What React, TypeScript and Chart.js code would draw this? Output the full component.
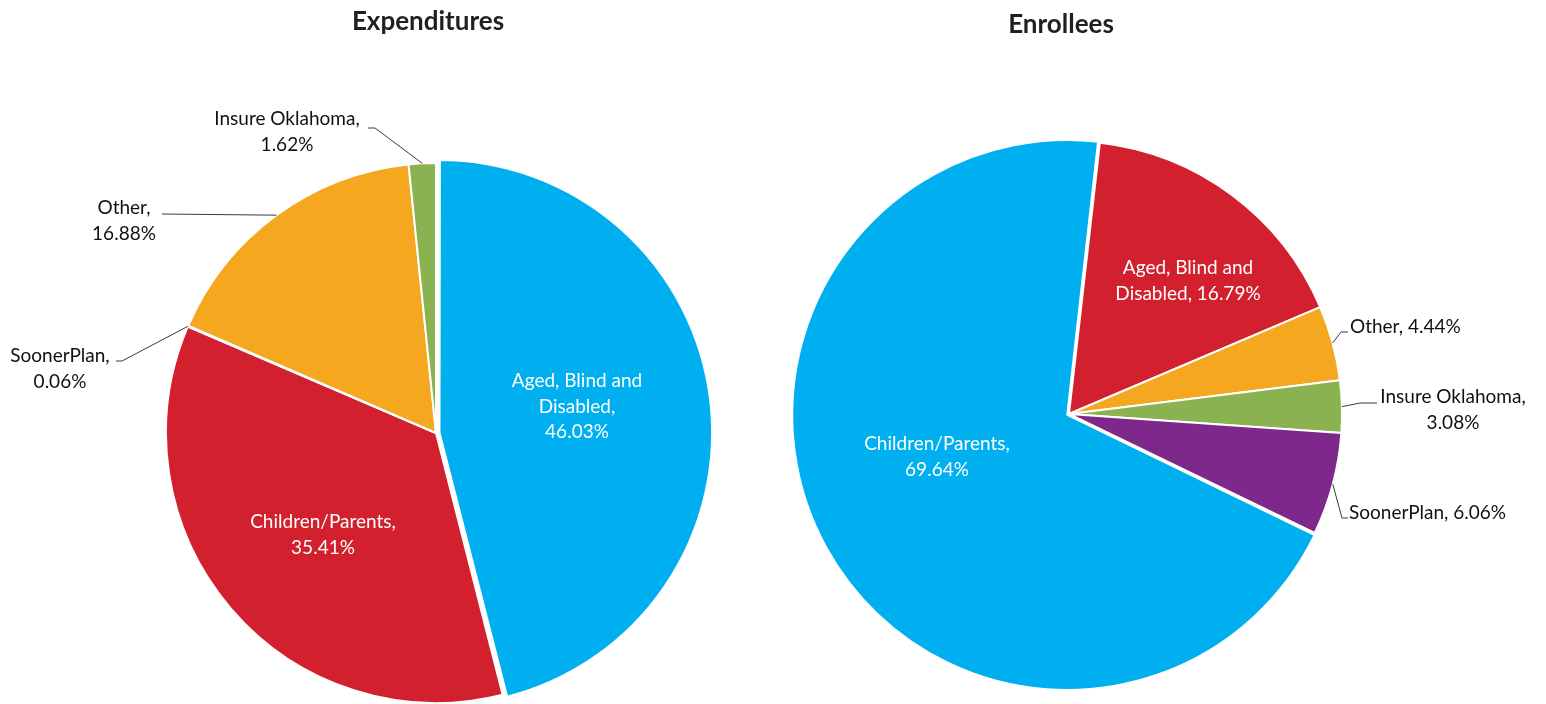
import React, { useEffect, useRef } from "react";
import { Chart, registerables } from "chart.js";

Chart.register(...registerables);

// ---- data ----
const expCategories = ["Aged, Blind and Disabled", "Children/Parents", "SoonerPlan", "Other", "Insure Oklahoma"];
const expValues = [46.03, 35.41, 0.06, 16.88, 1.62];
const enrCategories = ["Aged, Blind and Disabled", "Other", "Insure Oklahoma", "SoonerPlan", "Children/Parents"];
const enrValues = [16.79, 4.44, 3.08, 6.06, 69.64];
const chartTitles = ["Expenditures", "Enrollees"];

// ---- styles ----
const BLUE = "#00AFEF";
const RED = "#D3202E";
const PURPLE = "#7E288C";
const ORANGE = "#F5A71F";
const GREEN = "#8BB250";
const expColors = [BLUE, RED, PURPLE, ORANGE, GREEN];
const enrColors = [RED, ORANGE, GREEN, PURPLE, BLUE];
const FONT = "Lato, 'Open Sans', sans-serif";

type LabelLayout = {
  x: number;
  y: number;
  align: CanvasTextAlign;
  color: string;
  words: number[]; // words per line
  leader?: number[][]; // points after the arc anchor
};

// page-coordinate layouts
const expLayout: Record<string, LabelLayout> = {
  "Aged, Blind and Disabled": { x: 577, y: 381, align: "center", color: "#fff", words: [3, 1, 1] },
  "Children/Parents": { x: 323, y: 522, align: "center", color: "#fff", words: [1, 1] },
  SoonerPlan: { x: 60, y: 356, align: "center", color: "#111", words: [1, 1], leader: [[122, 361], [116, 361]] },
  Other: { x: 124, y: 208, align: "center", color: "#111", words: [1, 1], leader: [[162, 214]] },
  "Insure Oklahoma": { x: 287, y: 119, align: "center", color: "#111", words: [2, 1], leader: [[375, 128], [368, 128]] },
};
const enrLayout: Record<string, LabelLayout> = {
  "Aged, Blind and Disabled": { x: 1188, y: 268, align: "center", color: "#fff", words: [3, 2] },
  "Children/Parents": { x: 937, y: 444, align: "center", color: "#fff", words: [1, 1] },
  Other: { x: 1350, y: 327, align: "left", color: "#111", words: [2], leader: [[1341, 332], [1348, 332]] },
  "Insure Oklahoma": { x: 1453, y: 397, align: "center", color: "#111", words: [2, 1], leader: [[1360, 403], [1377, 403]] },
  SoonerPlan: { x: 1349, y: 513, align: "left", color: "#111", words: [2], leader: [[1342, 518], [1348, 518]] },
};

const sliceLabelPlugin = {
  id: "sliceLabels",
  afterDraw(chart: any, _args: any, opts: any) {
    const ctx: CanvasRenderingContext2D = chart.ctx;
    const ox: number = opts.originX;
    const layout: Record<string, LabelLayout> = opts.layout;
    const labels: string[] = chart.data.labels;
    const values: number[] = chart.data.datasets[0].data;
    const meta = chart.getDatasetMeta(0);
    ctx.save();
    // title
    ctx.fillStyle = "#231F20";
    ctx.font = `bold 26px ${FONT}`;
    ctx.textAlign = "center";
    ctx.textBaseline = "middle";
    ctx.fillText(opts.title, opts.titleX - ox, opts.titleY);

    labels.forEach((cat, i) => {
      const L = layout[cat];
      if (!L) return;
      const el = meta.data[i];
      const p = el.getProps(["x", "y", "startAngle", "endAngle", "outerRadius"], true);
      const mid = (p.startAngle + p.endAngle) / 2;
      const off = ((el.options && el.options.offset) || 0) / 4;
      const ax = p.x + Math.cos(mid) * (p.outerRadius + off);
      const ay = p.y + Math.sin(mid) * (p.outerRadius + off);
      if (L.leader) {
        ctx.strokeStyle = "#3a3a3a";
        ctx.lineWidth = 1;
        ctx.beginPath();
        ctx.moveTo(ax, ay);
        L.leader.forEach(([lx, ly]) => ctx.lineTo(lx - ox, ly));
        ctx.stroke();
      }
      const full = `${cat}, ${values[i].toFixed(2)}%`;
      const tokens = full.split(" ");
      const lines: string[] = [];
      let k = 0;
      L.words.forEach((n) => {
        lines.push(tokens.slice(k, k + n).join(" "));
        k += n;
      });
      ctx.fillStyle = L.color;
      ctx.font = `19px ${FONT}`;
      ctx.textAlign = L.align;
      ctx.textBaseline = "middle";
      lines.forEach((ln, j) => ctx.fillText(ln, L.x - ox, L.y + j * 25.5));
    });
    ctx.restore();
  },
};

function PieCanvas(props: {
  left: number;
  width: number;
  categories: string[];
  values: number[];
  colors: string[];
  offsets: number[];
  radius: number;
  rotation: number;
  padding: { left: number; right: number; top: number; bottom: number };
  layout: Record<string, LabelLayout>;
  title: string;
  titleX: number;
  titleY: number;
}) {
  const ref = useRef<HTMLCanvasElement | null>(null);
  useEffect(() => {
    if (!ref.current) return;
    const chart = new Chart(ref.current, {
      type: "pie",
      data: {
        labels: props.categories,
        datasets: [
          {
            data: props.values,
            backgroundColor: props.colors,
            borderColor: "#ffffff",
            borderWidth: 2,
            offset: props.offsets,
          } as any,
        ],
      },
      options: {
        responsive: false,
        animation: false,
        events: [],
        radius: props.radius,
        rotation: props.rotation,
        layout: { padding: props.padding },
        plugins: {
          legend: { display: false },
          tooltip: { enabled: false },
          title: { display: false },
          sliceLabels: {
            originX: props.left,
            layout: props.layout,
            title: props.title,
            titleX: props.titleX,
            titleY: props.titleY,
          },
        } as any,
      } as any,
      plugins: [sliceLabelPlugin],
    });
    return () => chart.destroy();
  }, []);
  return (
    <canvas
      ref={ref}
      width={props.width}
      height={704}
      style={{ position: "absolute", left: props.left, top: 0, width: props.width, height: 704 }}
    />
  );
}

export default function App() {
  return (
    <div style={{ position: "absolute", left: 0, top: 0, width: 1546, height: 704, background: "#fff" }}>
      <PieCanvas
        left={0}
        width={773}
        categories={expCategories}
        values={expValues}
        colors={expColors}
        offsets={[14, 0, 0, 0, 0]}
        radius={270}
        rotation={0}
        padding={{ left: 100, right: 1, top: 163, bottom: 1 }}
        layout={expLayout}
        title={chartTitles[0]}
        titleX={428}
        titleY={22}
      />
      <PieCanvas
        left={773}
        width={773}
        categories={enrCategories}
        values={enrValues}
        colors={enrColors}
        offsets={[0, 0, 0, 0, 8]}
        radius={273}
        rotation={6.5}
        padding={{ left: 0, right: 181, top: 141, bottom: 17 }}
        layout={enrLayout}
        title={chartTitles[1]}
        titleX={1061}
        titleY={25}
      />
    </div>
  );
}
